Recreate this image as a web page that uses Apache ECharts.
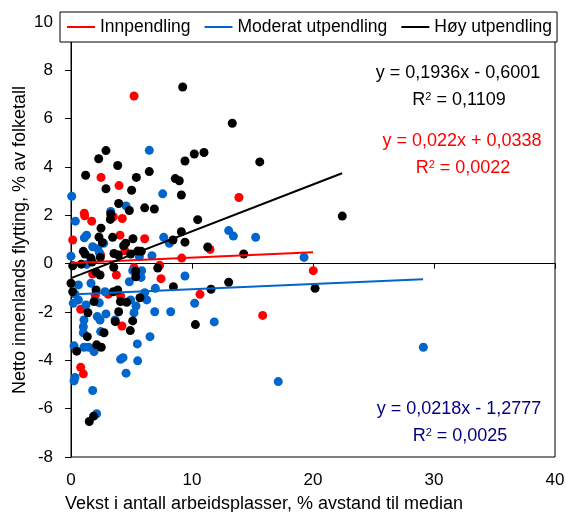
<!DOCTYPE html>
<html><head><meta charset="utf-8">
<script src="https://cdn.jsdelivr.net/npm/echarts@6/dist/echarts.min.js"></script>
<style>html,body{margin:0;padding:0;background:#fff}#c{width:566px;height:512px}</style>
</head><body><div id="c"></div>
<script>
const FONT = '"Liberation Sans", Arial, sans-serif';
const seriesNames = ['Innpendling', 'Moderat utpendling', 'Høy utpendling'];
const seriesColors = ['#FF0000', '#0066CC', '#000000'];

// [x, y]
const innpendling = [
  [5.21,6.94],[2.48,3.57],[3.97,3.23],[1.10,2.09],[1.13,1.98],[1.71,1.76],[4.24,1.87],[3.50,1.94],
  [0.14,0.98],[4.05,1.18],[6.09,1.03],[13.88,2.74],[4.46,0.53],[11.49,0.59],[2.45,0.36],[9.15,0.23],
  [1.79,-0.43],[3.75,-0.47],[7.44,-0.62],[5.21,-0.17],[7.33,-0.07],[3.08,-1.27],[4.10,-1.34],[2.01,-1.31],
  [10.66,-1.27],[0.80,-1.89],[4.21,-2.58],[0.80,-4.29],[1.02,-4.56],[20.02,-0.29],[15.84,-2.14]
];
const moderatUtpendling = [
  [6.47,4.69],[0.06,2.79],[7.58,2.89],[4.55,2.39],[3.28,2.16],[0.36,1.76],[1.10,1.07],[1.29,1.18],
  [1.79,0.70],[2.21,0.62],[2.35,0.45],[2.70,0.84],[7.66,1.09],[8.13,0.84],[13.03,1.37],[13.42,1.14],
  [15.26,1.09],[0.0,0.31],[5.65,0.29],[6.69,0.33],[19.26,0.26],
  [1.29,-0.03],[1.65,-0.81],[0.61,-0.88],[0.33,-1.26],[0.61,-1.50],[0.19,-1.64],[1.24,-1.71],[1.07,-2.33],
  [1.02,-2.61],[1.02,-2.86],[0.25,-3.40],[1.07,-3.46],[1.46,-3.46],[1.90,-3.64],[0.33,-4.71],[0.25,-4.85],
  [1.79,-5.25],[2.12,-6.21],[2.34,-1.62],[2.17,-2.19],[2.40,-2.33],[2.89,-2.08],[2.45,-2.81],[2.81,-1.16],
  [4.82,-0.75],[5.10,-0.29],[5.84,-0.29],[5.79,-0.57],[9.42,-0.51],[6.97,-1.02],[6.09,-1.20],[4.93,-1.50],
  [5.37,-1.75],[5.21,-2.03],[6.26,-1.50],[6.92,-1.99],[8.24,-1.99],[10.22,-1.64],[11.84,-2.41],[6.53,-3.02],
  [5.48,-3.32],[4.30,-3.89],[4.10,-3.96],[5.51,-4.02],[4.55,-4.53],[3.64,-2.33],[29.12,-3.46],[17.13,-4.88]
];
const hoyUtpendling = [
  [9.23,7.31],[13.33,5.81],[2.89,4.68],[2.29,4.34],[9.42,4.25],[10.19,4.54],[10.99,4.60],[15.6,4.21],
  [3.86,4.06],[1.21,3.66],[5.40,3.57],[6.47,3.81],[8.62,3.52],[8.95,3.43],[2.89,3.10],[5.01,3.04],
  [9.12,2.84],[3.94,2.49],[4.82,2.20],[6.09,2.31],[6.89,2.26],[3.28,2.06],[3.25,1.83],[2.48,1.47],
  [10.47,1.82],[9.12,1.32],[2.31,1.10],[2.59,0.88],[3.44,1.09],[5.12,1.03],[8.43,0.98],[9.42,0.89],
  [4.35,0.74],[4.52,0.85],[11.30,0.69],[14.27,0.40],[1.02,0.51],[1.16,0.40],[1.65,0.23],[2.42,0.26],
  [3.55,0.42],[3.91,0.36],[4.93,0.40],[5.51,0.52],[5.81,0.51],[22.42,1.97],
  [0.14,-0.09],[0.0,-0.81],[0.14,-1.16],[2.07,-1.09],[2.40,-0.47],[2.07,-0.35],[3.53,-0.15],[5.35,-0.31],
  [5.35,-0.54],[7.17,-0.18],[8.46,-0.95],[13.03,-0.77],[11.57,-1.06],[3.50,-1.16],[3.86,-1.09],[1.90,-1.57],
  [4.08,-1.57],[4.60,-1.60],[5.70,-1.41],[1.40,-2.03],[3.94,-1.99],[3.66,-2.40],[5.10,-2.37],[10.28,-2.52],
  [4.90,-2.77],[2.73,-2.86],[1.35,-3.02],[2.12,-3.36],[2.50,-3.46],[0.47,-3.62],[1.51,-6.53],[1.87,-6.31],
  [20.17,-1.02],[0.85,-0.02],[1.74,0.07]
];

// trendline end points
const trendInnpendling = [[0.0,0.03],[20.0,0.47]];
const trendModerat = [[0.4,-1.27],[29.1,-0.64]];
const trendHoy = [[0.0,-0.60],[22.4,3.74]];

const xMin = 0, xMax = 40, xStep = 10;
const yMin = -8, yMax = 10, yStep = 2;

const xTitle = 'Vekst i antall arbeidsplasser, % avstand til median';
const yTitle = 'Netto innenlands flytting, % av folketall';

const equations = [
  { eq: 'y = 0,1936x - 0,6001', r2: '0,1109', color: '#000000', x: 458, y: 73 },
  { eq: 'y = 0,022x + 0,0338', r2: '0,0022', color: '#FF0000', x: 462, y: 141 },
  { eq: 'y = 0,0218x - 1,2777', r2: '0,0025', color: '#000080', x: 459, y: 409 }
];

const scatterData = [innpendling, moderatUtpendling, hoyUtpendling];
const trendData = [trendInnpendling, trendModerat, trendHoy];

const series = [];
seriesNames.forEach((n, i) => {
  series.push({
    type: 'line', name: n, data: trendData[i], symbol: 'none', silent: true,
    lineStyle: { color: seriesColors[i], width: 2 }, itemStyle: { color: seriesColors[i] },
    z: 4, animation: false
  });
});
seriesNames.forEach((n, i) => {
  series.push({
    type: 'scatter', name: n, data: scatterData[i], symbol: 'circle', symbolSize: 9,
    itemStyle: { color: seriesColors[i], opacity: 1 }, z: 3, animation: false
  });
});

const graphics = [];
equations.forEach(e => {
  graphics.push({
    type: 'text', x: e.x, y: e.y, z: 10,
    style: { text: e.eq, fill: e.color, font: '18px ' + FONT, align: 'center', verticalAlign: 'middle' }
  });
  graphics.push({
    type: 'text', x: e.x + 1, y: e.y + 27, z: 10,
    style: {
      text: 'R{s|2} = ' + e.r2, fill: e.color, font: '18px ' + FONT, align: 'center', verticalAlign: 'middle',
      rich: { s: { fill: e.color, fontSize: 11, fontFamily: FONT, verticalAlign: 'top', lineHeight: 18 } }
    }
  });
});
graphics.push({
  type: 'text', x: 264, y: 504, z: 10,
  style: { text: xTitle, fill: '#000', font: '18px ' + FONT, align: 'center', verticalAlign: 'middle' }
});
graphics.push({
  type: 'text', x: 20, y: 240, rotation: Math.PI / 2, z: 10,
  style: { text: yTitle, fill: '#000', font: '18px ' + FONT, align: 'center', verticalAlign: 'middle' }
});

const chart = echarts.init(document.getElementById('c'), null, { renderer: 'canvas' });
chart.setOption({
  animation: false,
  backgroundColor: '#fff',
  textStyle: { fontFamily: FONT },
  grid: { left: 71, right: 11, top: 22, bottom: 55, show: true, borderColor: '#000', borderWidth: 1,
          backgroundColor: 'transparent', containLabel: false, outerBoundsMode: 'none' },
  legend: {
    data: seriesNames.map(n => ({ name: n, icon: 'rect' })),
    left: 60, top: 12, orient: 'horizontal',
    padding: [6, 5, 6, 7], itemGap: 14, itemWidth: 28, itemHeight: 2,
    backgroundColor: '#fff', borderColor: '#000', borderWidth: 1, borderRadius: 0,
    textStyle: { fontSize: 17.5, color: '#000', fontFamily: FONT },
    selectedMode: false, z: 6
  },
  xAxis: [
    { type: 'value', min: xMin, max: xMax, interval: xStep, position: 'bottom',
      axisLine: { show: false, onZero: false }, axisTick: { show: false }, splitLine: { show: false },
      axisLabel: { fontSize: 17, color: '#000', margin: 15, fontFamily: FONT } },
    { type: 'value', min: xMin, max: xMax, interval: xStep, position: 'bottom',
      axisLine: { show: true, onZero: true, lineStyle: { color: '#000', width: 1 } },
      axisTick: { show: true, inside: false, length: 5, lineStyle: { color: '#000' } },
      axisLabel: { show: false }, splitLine: { show: false } }
  ],
  yAxis: {
    type: 'value', min: yMin, max: yMax, interval: yStep,
    axisLine: { show: true, onZero: false, lineStyle: { color: '#000', width: 1 } },
    axisTick: { show: true, inside: false, length: 6, lineStyle: { color: '#000' } },
    axisLabel: { fontSize: 17, color: '#000', margin: 18, fontFamily: FONT },
    splitLine: { show: false }
  },
  series: series,
  graphic: graphics
});
</script></body></html>
